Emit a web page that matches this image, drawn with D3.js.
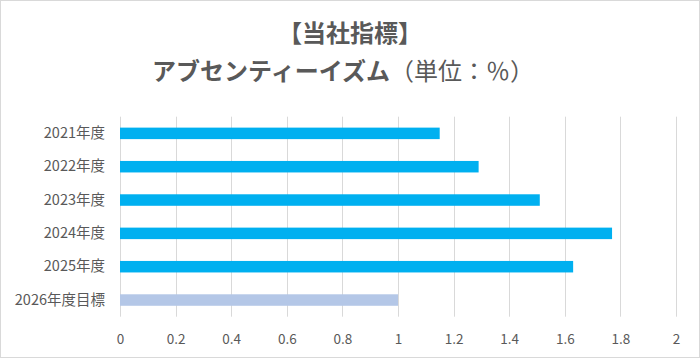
<!DOCTYPE html>
<html><head><meta charset="utf-8">
<script src="https://cdn.jsdelivr.net/npm/d3@7"></script>
<style>body{margin:0;background:#fff}svg{display:block}</style>
</head><body>
<script>
const categories = ["2021年度","2022年度","2023年度","2024年度","2025年度","2026年度目標"];
const values = [1.15, 1.29, 1.51, 1.77, 1.63, 1.0];
const colors = ["#00B0F0","#00B0F0","#00B0F0","#00B0F0","#00B0F0","#B4C7E7"];
const xTicks = [0,0.2,0.4,0.6,0.8,1,1.2,1.4,1.6,1.8,2];

const W = 700, H = 358;
const font = "'Noto Sans CJK JP','Noto Sans',sans-serif";
const svg = d3.select("body").append("svg").attr("width", W).attr("height", H);
svg.append("rect").attr("x",0.5).attr("y",0.5).attr("width",W-1).attr("height",H-1)
  .attr("fill","#fff").attr("stroke","#D9D9D9");

const x = d3.scaleLinear().domain([0,2]).range([120,676]);
const y = d3.scaleBand().domain(categories).range([116.7,316.7]).paddingInner(0.655).paddingOuter(0.3275);

const g = svg.append("g");
g.selectAll("line.grid").data(xTicks).join("line")
  .attr("x1",d=>Math.round(x(d))+0.5).attr("x2",d=>Math.round(x(d))+0.5)
  .attr("y1",116.7).attr("y2",316.7).attr("stroke","#D9D9D9").attr("stroke-width",1);

g.selectAll("rect.bar").data(values).join("rect")
  .attr("x",x(0)).attr("y",(d,i)=>y(categories[i]))
  .attr("width",d=>x(d)-x(0)).attr("height",y.bandwidth())
  .attr("fill",(d,i)=>colors[i]);

const xa = svg.append("g").attr("transform","translate(0,316.7)")
  .call(d3.axisBottom(x).tickValues(xTicks).tickSize(0).tickPadding(18).tickFormat(d=>String(d)));
xa.select(".domain").remove();
xa.selectAll("text").attr("fill","#595959").style("font-family",font).style("font-size","13.5px");

const ya = svg.append("g").attr("transform","translate(120,0)")
  .call(d3.axisLeft(y).tickSize(0).tickPadding(15));
ya.select(".domain").remove();
ya.selectAll("text").attr("fill","#595959").style("font-family",font).style("font-size","14.5px");

svg.append("text").attr("x",350).attr("y",42).attr("text-anchor","middle")
  .attr("fill","#595959").style("font-family",font).style("font-size","24px").style("font-weight","bold")
  .text("【当社指標】");
const t2 = svg.append("text").attr("x",343).attr("y",80).attr("text-anchor","middle")
  .attr("fill","#595959").style("font-family",font).style("font-size","24px");
t2.append("tspan").style("font-weight","bold").text("アブセンティーイズム");
t2.append("tspan").text("（単位：％）");
</script>
</body></html>
